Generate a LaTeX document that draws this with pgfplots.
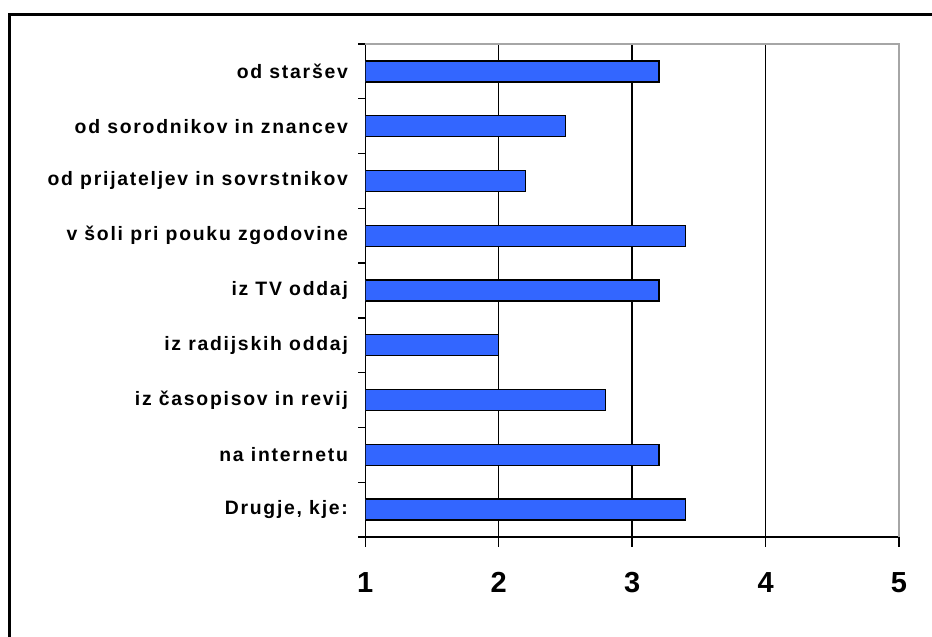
\documentclass[border=0pt]{standalone}
\usepackage{pgfplots}
\pgfplotsset{compat=1.18}
\usepackage{fontspec}
\setmainfont{Liberation Sans}
\newfontfamily\lbl{Liberation Sans}[LetterSpace=9]
\definecolor{barblue}{HTML}{3366FF}
\begin{document}
\begin{tikzpicture}
\useasboundingbox (0pt,0pt) rectangle (466pt,318.5pt);
% outer frame (only top and left edges are in view)
\draw[line width=1.5pt] (4.75pt,-10pt) -- (4.75pt,311.25pt) -- (480pt,311.25pt);
\begin{axis}[
    at={(182.65pt,50pt)}, anchor=south west,
    scale only axis,
    width=266.85pt, height=246.5pt,
    xmin=1, xmax=5,
    ymin=-0.5, ymax=8.5,
    axis x line*=bottom,
    axis y line*=left,
    axis line style={black, line width=0.7pt},
    clip mode=individual,
    xtick={1,2,3,4,5},
    ytick={0,...,8},
    yticklabels={{Drugje, kje:},{na internetu},{iz časopisov in revij},{iz radijskih oddaj},{iz TV oddaj},{v šoli pri pouku zgodovine},{od prijateljev in sovrstnikov},{od sorodnikov in znancev},{od staršev}},
    minor ytick={-0.5,0.5,...,8.5},
    tick align=outside,
    major tick length=5pt,
    minor tick length=3.5pt,
    every major y tick/.append style={draw=none},
    every tick/.append style={black, line width=0.7pt},
    xmajorgrids=true,
    major x grid style={black, line width=0.7pt},
    /pgf/number format/assume math mode=true,
    xticklabel style={font=\fontsize{14.5}{16}\selectfont\bfseries, yshift=-9pt},
    yticklabel style={font=\lbl\fontsize{9.7}{11}\selectfont\bfseries, inner sep=0pt, xshift=-3.5pt},
    xbar,
    bar width=10.5pt,
]
\addplot[fill=barblue, draw=black, line width=0.7pt] coordinates {
(3.4,0)
(3.2,1)
(2.8,2)
(2.0,3)
(3.2,4)
(3.4,5)
(2.2,6)
(2.5,7)
(3.2,8)
};
\draw[gray!70, line width=0.7pt] (1,8.5) -- (5,8.5) -- (5,-0.5);
\end{axis}
\end{tikzpicture}
\end{document}
